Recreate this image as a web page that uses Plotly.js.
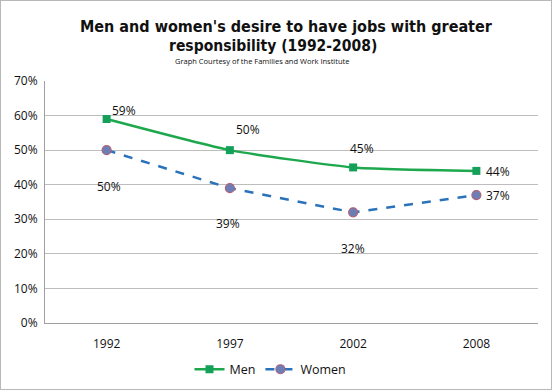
<!DOCTYPE html>
<html><head><meta charset="utf-8">
<script src="https://cdn.plot.ly/plotly-3.0.1.min.js"></script>
<style>html,body{margin:0;padding:0;background:#fff}#c{width:550px;height:388px;border:1px solid #b8b8b8;}</style>
</head><body><div id="c"></div>
<script>
const years = ['1992','1997','2002','2008'];
const men = [0.59, 0.50, 0.45, 0.44];
const women = [0.50, 0.39, 0.32, 0.37];
const menLabels = ['59%','50%','45%','44%'];
const womenLabels = ['50%','39%','32%','37%'];
const menShift = [[17,9],[18,21],[9,19],[22,-1]];
const womenShift = [[2,-36],[-2,-35],[0,-36],[22,0]];

const font = 'Open Sans, Noto Sans, sans-serif';
const tfont = 'Liberation Sans Narrow, DejaVu Sans Condensed, Open Sans, sans-serif';
const ann = [];
years.forEach((y,i)=>{
  ann.push({x:i,y:men[i],xref:'x',yref:'y',text:menLabels[i],showarrow:false,xshift:menShift[i][0],yshift:menShift[i][1],font:{size:12,color:'#111',family:font}});
  ann.push({x:i,y:women[i],xref:'x',yref:'y',text:womenLabels[i],showarrow:false,xshift:womenShift[i][0],yshift:womenShift[i][1],font:{size:12,color:'#111',family:font}});
});
ann.push({xref:'paper',yref:'paper',x:0.49,y:1,yshift:55,xanchor:'center',yanchor:'middle',showarrow:false,text:"<b>Men and women's desire to have jobs with greater</b>",font:{size:16,color:'#111',family:tfont}});
ann.push({xref:'paper',yref:'paper',x:0.4625,y:1,yshift:35,xanchor:'center',yanchor:'middle',showarrow:false,text:"<b>responsibility (1992-2008)</b>",font:{size:15.5,color:'#111',family:tfont}});
ann.push({xref:'paper',yref:'paper',x:0.5,y:1,xshift:-30,yshift:20,xanchor:'center',yanchor:'middle',showarrow:false,text:'Graph Courtesy of the Families and Work Institute',font:{size:7.5,color:'#111',family:font}});

const traces = [
  {x:years,y:men,name:'Men',type:'scatter',mode:'lines+markers',line:{color:'#1ea84e',width:2.5,shape:'spline',smoothing:0.5},marker:{symbol:'square',size:8,color:'#15a05a',line:{color:'#15a05a',width:0}}},
  {x:years,y:women,name:'Women',type:'scatter',mode:'lines+markers',line:{color:'#2a73bb',width:2.5,dash:'dash'},marker:{symbol:'circle',size:9,color:'#6b7fb6',line:{color:'#b0607a',width:1.2}}}
];
const layout = {
  width:550,height:388,
  margin:{l:44,r:13,t:80,b:66},
  paper_bgcolor:'#fff',plot_bgcolor:'#fff',
  xaxis:{type:'category',range:[-0.5,3.5],showgrid:false,showline:true,linecolor:'#a0a0a0',linewidth:1,ticks:'',ticklabelstandoff:10,tickfont:{size:12,color:'#111',family:font},zeroline:false},
  yaxis:{range:[0,0.7],dtick:0.1,tickformat:'.0%',showgrid:true,gridcolor:'#bdbdbd',gridwidth:1,showline:true,linecolor:'#a0a0a0',ticks:'',ticklabelstandoff:4,tickfont:{size:12,color:'#111',family:font},zeroline:false},
  showlegend:true,
  legend:{orientation:'h',xref:'container',yref:'container',x:0.49,xanchor:'center',y:0.05,yanchor:'middle',font:{size:12.5,color:'#111',family:font},itemwidth:30},
  annotations:ann
};
Plotly.newPlot('c',traces,layout,{displayModeBar:false,staticPlot:true});
</script></body></html>
